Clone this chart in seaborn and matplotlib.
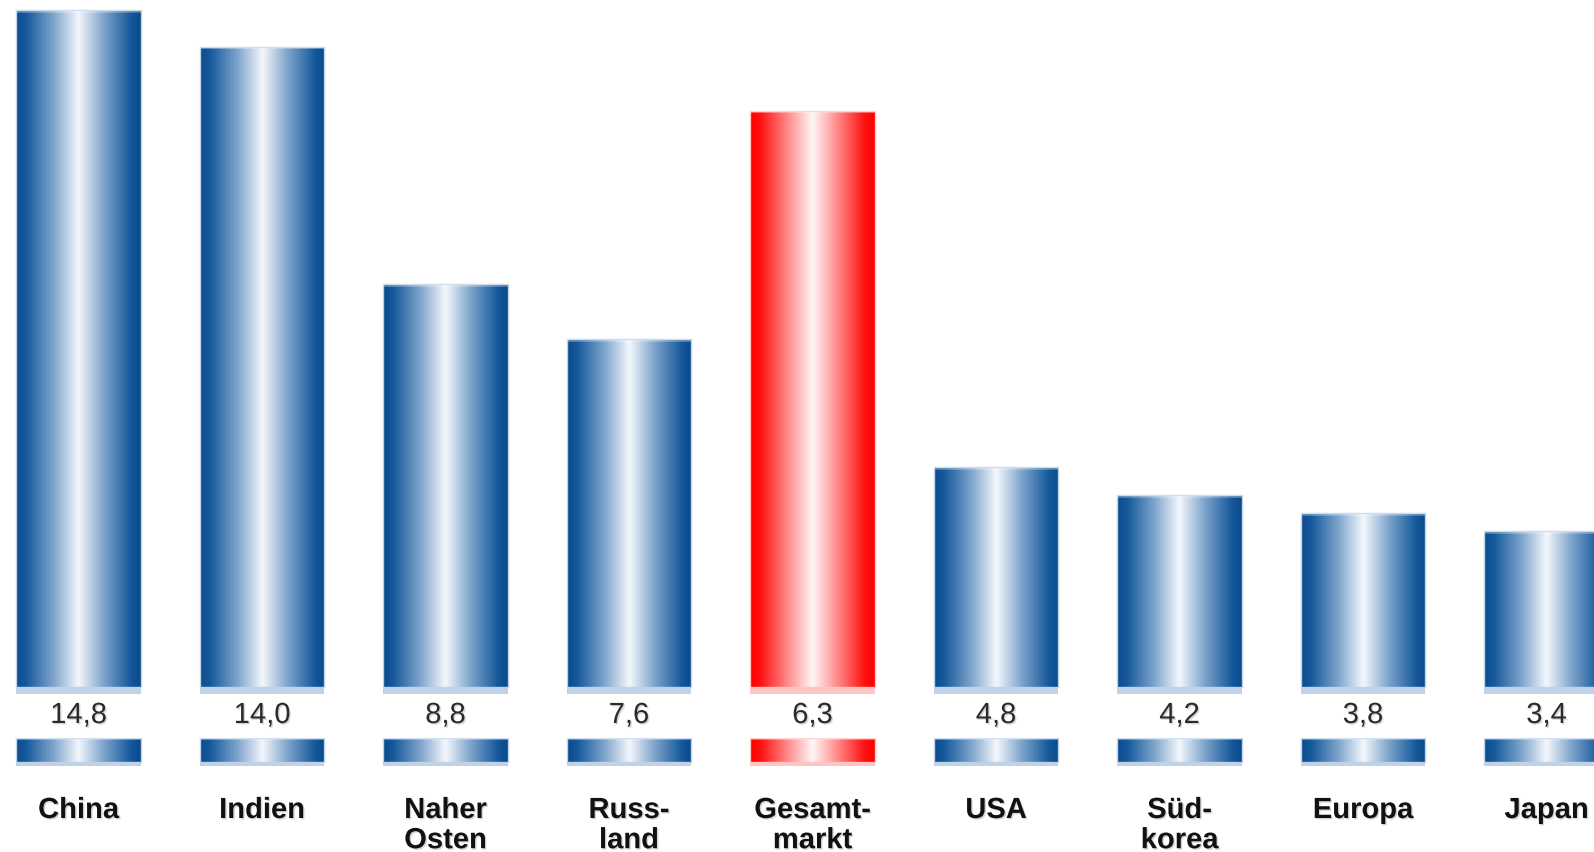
import matplotlib

matplotlib.use("Agg")
import matplotlib.patheffects as pe
import matplotlib.pyplot as plt
import numpy as np
import pandas as pd
import seaborn as sns
from matplotlib.colors import LinearSegmentedColormap

# data
categories = ["China", "Indien", "Naher\nOsten", "Russ-\nland", "Gesamt-\nmarkt",
              "USA", "Süd-\nkorea", "Europa", "Japan"]
values = [14.8, 14.0, 8.8, 7.6, 6.3, 4.8, 4.2, 3.8, 3.4]
highlight = "Gesamt-\nmarkt"
total_scale = 2.0  # the total market bar sits on its own axis, drawn at double scale

sns.set_theme(style="white")
plt.rcParams["font.family"] = ["Liberation Sans", "DejaVu Sans"]

blue_cmap = LinearSegmentedColormap.from_list(
    "cyl_blue",
    [(0.0, "#0B4C8E"), (0.08, "#15599C"), (0.3, "#7FA5CC"), (0.5, "#F4F7FC"),
     (0.7, "#7FA5CC"), (0.92, "#15599C"), (1.0, "#0A4A8A")])
red_cmap = LinearSegmentedColormap.from_list(
    "cyl_red",
    [(0.0, "#FF0000"), (0.08, "#FF1010"), (0.3, "#FF8A8A"), (0.5, "#FFF7F7"),
     (0.7, "#FF8A8A"), (0.92, "#FF1010"), (1.0, "#FF0000")])

W, H = 1594, 852
px_per_unit = 45.74
bar_width = 0.681

fig = plt.figure(figsize=(W / 100, H / 100), dpi=100)


def px_axes(top, bottom):
    return fig.add_axes([0, (H - bottom) / H, 1, (bottom - top) / H])


def fill_gradient(axis, patches, cmaps, strip_colors, depth):
    grad = np.linspace(0, 1, 256).reshape(1, -1)
    for p, cmap, strip in zip(patches, cmaps, strip_colors):
        x0, y0 = p.get_x(), p.get_y()
        w, h = p.get_width(), p.get_height()
        im = axis.imshow(grad, cmap=cmap, aspect="auto", interpolation="bicubic",
                         extent=(x0, x0 + w, y0, y0 + h), zorder=2)
        im.set_clip_path(p)
        p.set_facecolor("none")
        p.set_edgecolor(strip)
        p.set_linewidth(1.0)
        p.set_zorder(3)
        axis.bar(x0 + w / 2, -depth, width=w, color=strip, zorder=2, linewidth=0)
        axis.bar(x0 + w / 2, depth * 0.4, bottom=y0 + h - depth * 0.4, width=w,
                 color="white", alpha=0.25, zorder=3, linewidth=0)


df = pd.DataFrame({"region": categories, "value": values})
df_blue = df[df["region"] != highlight]
df_red = df[df["region"] == highlight]

ax = px_axes(0, 700)
ax2 = ax.twinx()
band_ax = px_axes(738, 766)

sns.barplot(data=df_blue, x="region", y="value", order=categories, ax=ax,
            width=bar_width, color="#0B4C8E")
sns.barplot(data=df_red, x="region", y="value", order=categories, ax=ax2,
            width=bar_width, color="#FF0000")

depth = 7 / px_per_unit
fill_gradient(ax, list(ax.patches)[:len(df_blue)], [blue_cmap] * len(df_blue),
              ["#BFD2E7"] * len(df_blue), depth)
fill_gradient(ax2, list(ax2.patches)[:1], [red_cmap], ["#FFC4C4"], depth / total_scale)

# small band under the value labels
band = [1.0] * len(categories)
sns.barplot(x=categories, y=band, order=categories, ax=band_ax, width=bar_width,
            color="#0B4C8E")
is_red = [c == highlight for c in categories]
fill_gradient(band_ax, list(band_ax.patches)[:len(categories)],
              [red_cmap if r else blue_cmap for r in is_red],
              ["#FFC4C4" if r else "#BFD2E7" for r in is_red], 4 / 24)

xlim = (-78.5 / 183.5, (W - 78.5) / 183.5)
ylim = (-13 / px_per_unit, 687 / px_per_unit)
for a in (ax, ax2, band_ax):
    a.set_xlim(xlim)
    a.axis("off")
ax.set_ylim(ylim)
ax2.set_ylim(ylim[0] / total_scale, ylim[1] / total_scale)
band_ax.set_ylim(-4 / 24, 1.0)

shadow = [pe.withSimplePatchShadow(offset=(1, -1), shadow_rgbFace="#888888", alpha=0.35)]
for i, v in enumerate(values):
    ax.annotate(f"{v:.1f}".replace(".", ","), xy=(i, 0), xytext=(0, -36 * 0.72),
                textcoords="offset points", ha="center", va="baseline",
                fontsize=21, color="#2A2A2A", path_effects=shadow)
    band_ax.annotate(categories[i], xy=(i, 0), xytext=(0, -34 * 0.72),
                     textcoords="offset points", ha="center", va="top",
                     fontsize=21, fontweight="bold", color="#111111",
                     linespacing=1.1, path_effects=shadow, annotation_clip=False)

fig.savefig("out.png", dpi=100, facecolor="white")
